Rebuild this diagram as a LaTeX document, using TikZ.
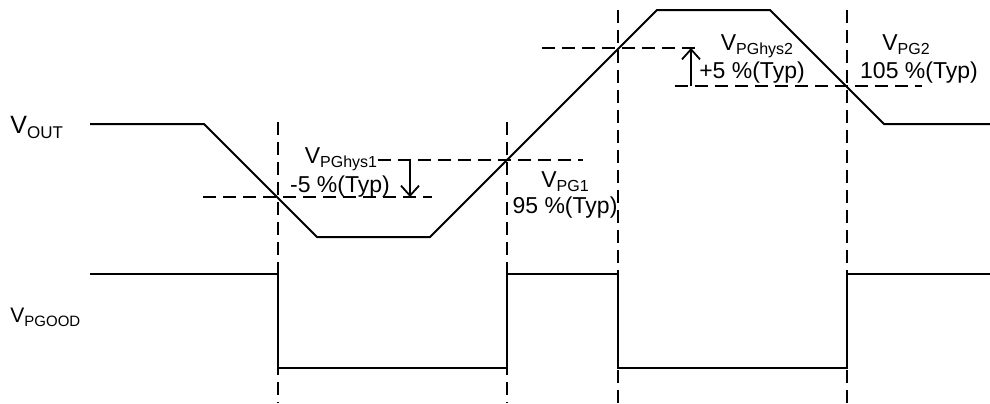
\documentclass[tikz,border=0pt]{standalone}
\usepackage{fontspec}
\setmainfont{Liberation Sans}
\usetikzlibrary{arrows.meta}

\newcommand{\vsig}[1]{V\raisebox{-0.4ex}{\fontsize{8}{9}\selectfont #1}}
\newcommand{\vbig}[1]{V\raisebox{-0.4ex}{\fontsize{8.5}{9}\selectfont #1}}
\newcommand{\vsmall}[1]{V\raisebox{-0.4ex}{\fontsize{7.5}{8}\selectfont #1}}

\begin{document}
\begin{tikzpicture}[x=0.5pt, y=-0.5pt,
  wave/.style={draw, line width=1pt},
  guide/.style={draw, line width=0.9pt, dash pattern=on 6.5pt off 3.5pt},
  hyst/.style={draw, line width=0.9pt, -{Straight Barb[length=5pt,width=9pt]}},
  lbl/.style={font=\fontsize{11.5}{13}\selectfont, inner sep=0pt, anchor=base},
]
\useasboundingbox (0,0) rectangle (990,403);
% --- VOUT waveform ---
\coordinate (o0) at (90,124);
\coordinate (o1) at (204,124);
\coordinate (o2) at (317,237);
\coordinate (o3) at (430,237);
\coordinate (o4) at (657,10);
\coordinate (o5) at (770,10);
\coordinate (o6) at (884,124);
\coordinate (o7) at (990,124);
\draw[wave] (o0) -- (o1) -- (o2) -- (o3) -- (o4) -- (o5) -- (o6) -- (o7);
% --- PGOOD waveform ---
\coordinate (g0) at (90,274);
\coordinate (g1) at (278,274);
\coordinate (g2) at (278,368);
\coordinate (g3) at (507,368);
\coordinate (g4) at (507,274);
\coordinate (g5) at (618,274);
\coordinate (g6) at (618,368);
\coordinate (g7) at (847,368);
\coordinate (g8) at (847,274);
\coordinate (g9) at (990,274);
\draw[wave] (g0) -- (g1) -- (g2) -- (g3) -- (g4) -- (g5) -- (g6) -- (g7) -- (g8) -- (g9);
% --- vertical guides ---
\foreach \x/\top [count=\i] in {278/122, 507/122, 618/10, 847/10} {
  \coordinate (t\i) at (\x,\top);
  \coordinate (b\i) at (\x,403);
  \draw[guide] (t\i) -- (b\i);
}
% --- threshold levels ---
\coordinate (hA) at (203,197);  \coordinate (hB) at (432,197);
\coordinate (hC) at (378,160);  \coordinate (hD) at (583,160);
\coordinate (hE) at (542,48);   \coordinate (hF) at (702,48);
\coordinate (hG) at (675,86);   \coordinate (hH) at (922,86);
\draw[guide] (hA) -- (hB);
\draw[guide] (hC) -- (hD);
\draw[guide] (hE) -- (hF);
\draw[guide] (hG) -- (hH);
% --- hysteresis arrows ---
\coordinate (a1) at (410,160);  \coordinate (a2) at (410,197);
\coordinate (a3) at (691,86);   \coordinate (a4) at (691,48);
\draw[hyst] (a1) -- (a2);
\draw[hyst] (a3) -- (a4);
% --- labels ---
\node[lbl, anchor=base west, font=\fontsize{12.5}{14}\selectfont] (vout) at (10,133) {\vbig{OUT}};
\node[lbl, anchor=base west, font=\fontsize{10.5}{12}\selectfont] (vpgood) at (10,322) {\vsmall{PGOOD}};
\node[lbl] (hys1) at (341,163) {\vsig{PGhys1}};
\node[lbl] (hys1v) at (340,192) {-5 \%(Typ)};
\node[lbl] (pg1) at (565,187) {\vsig{PG1}};
\node[lbl] (pg1v) at (565,213) {95 \%(Typ)};
\node[lbl] (hys2) at (757,50) {\vsig{PGhys2}};
\node[lbl] (hys2v) at (752,78) {+5 \%(Typ)};
\node[lbl] (pg2) at (906,50) {\vsig{PG2}};
\node[lbl] (pg2v) at (919,78) {105 \%(Typ)};
\end{tikzpicture}
\end{document}
